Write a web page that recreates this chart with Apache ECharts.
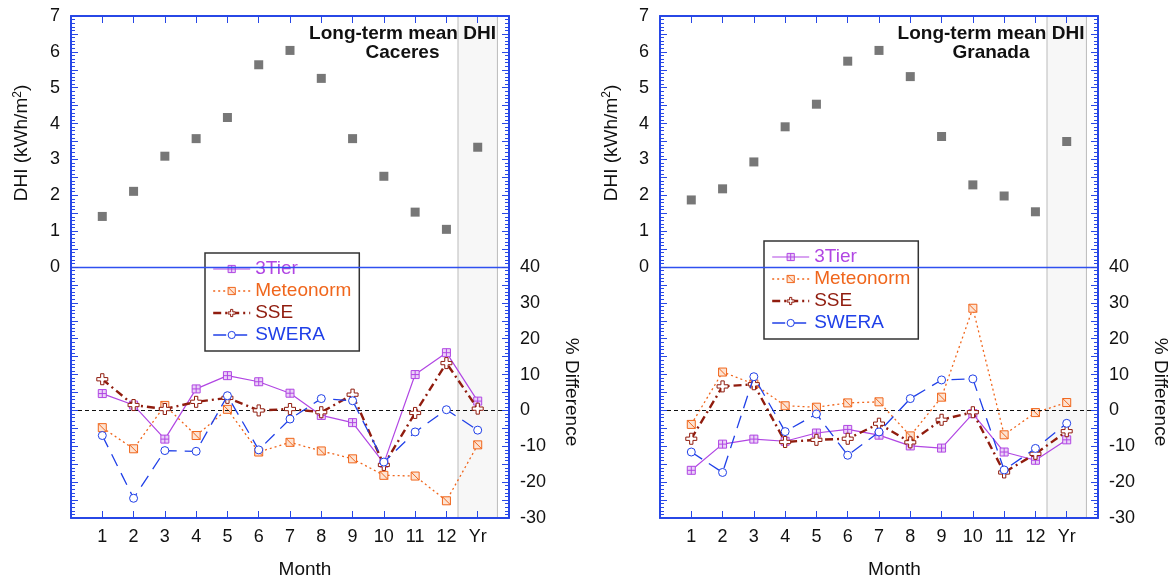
<!DOCTYPE html>
<html>
<head>
<meta charset="utf-8">
<script src="https://cdn.jsdelivr.net/npm/echarts@6/dist/echarts.min.js"></script>
<style>
  html, body { margin: 0; padding: 0; background: #fff; }
  #chart { width: 1171px; height: 581px; }
</style>
</head>
<body>
<div id="chart"></div>
<script>
// x positions 1..12 are months, 13 is the yearly value
var months = [1, 2, 3, 4, 5, 6, 7, 8, 9, 10, 11, 12, 13];
var monthLabels = ['1', '2', '3', '4', '5', '6', '7', '8', '9', '10', '11', '12', 'Yr'];
var siteNames = ['Caceres', 'Granada'];
var seriesNames = ['3Tier', 'Meteonorm', 'SSE', 'SWERA'];

// long-term mean DHI (kWh/m2)
var dhiCaceres = [1.41, 2.11, 3.09, 3.58, 4.17, 5.64, 6.04, 5.26, 3.58, 2.53, 1.53, 1.05, 3.34];
var dhiGranada = [1.87, 2.18, 2.93, 3.91, 4.54, 5.74, 6.04, 5.31, 3.64, 2.29, 1.98, 1.54, 3.50];

// % difference, Caceres
var tierCaceres = [4.7, 1.5, -8.0, 6.0, 9.7, 8.0, 4.8, -1.4, -3.4, -14.7, 10.0, 16.1, 2.6];
var meteoCaceres = [-4.8, -10.7, 1.4, -7.0, 0.3, -11.6, -8.9, -11.3, -13.5, -18.1, -18.3, -25.2, -9.6];
var sseCaceres = [8.7, 1.5, 0.4, 2.4, 3.5, 0.0, 0.4, -0.5, 4.4, -15.2, -0.7, 13.2, 0.5];
var sweraCaceres = [-7.0, -24.5, -11.2, -11.4, 4.1, -11.0, -2.4, 3.3, 2.7, -14.4, -6.0, 0.2, -5.5];

// % difference, Granada
var tierGranada = [-16.7, -9.4, -8.0, -8.6, -6.3, -5.3, -6.9, -9.9, -10.5, -0.9, -11.6, -13.9, -8.2];
var meteoGranada = [-3.9, 10.7, 7.4, 1.3, 0.9, 2.1, 2.4, -7.1, 3.7, 28.5, -6.8, -0.6, 2.2];
var sseGranada = [-7.9, 6.7, 7.3, -8.8, -8.2, -7.9, -3.7, -8.9, -2.6, -0.5, -17.3, -12.1, -5.8];
var sweraGranada = [-11.6, -17.3, 9.4, -5.9, -1.0, -12.5, -6.0, 3.3, 8.5, 8.8, -16.6, -10.6, -3.6];

var font = "'Liberation Sans', Arial, Helvetica, sans-serif";
var axisBlue = '#2747e6';
var colors = { '3Tier': '#b146e3', 'Meteonorm': '#f0661c', 'SSE': '#901c0e', 'SWERA': '#2040e8' };

function pairs(vals) {
  return months.map(function (m, i) { return [m, vals[i]]; });
}

var chart = echarts.init(document.getElementById('chart'));

var grids = [
  { left: 71, top: 16, width: 438, height: 502 },
  { left: 660, top: 16, width: 438, height: 502 }
];

var xAxes = [], yAxes = [], series = [], legends = [], graphics = [];

function xAxisFor(g, pos) {
  return {
    type: 'value', gridIndex: g, position: pos, min: 0, max: 14, interval: 1, z: 5,
    axisLine: { show: true, onZero: false, lineStyle: { color: axisBlue, width: 2 } },
    axisTick: { show: true, inside: true, length: 7, lineStyle: { color: axisBlue, width: 1 } },
    splitLine: { show: false },
    axisLabel: {
      show: pos === 'bottom', margin: 10, color: '#111', fontFamily: font, fontSize: 18,
      formatter: function (v) { return (v >= 1 && v <= 13) ? monthLabels[v - 1] : ''; }
    }
  };
}

[0, 1].forEach(function (g) {
  xAxes.push(xAxisFor(g, 'bottom'));
  xAxes.push(xAxisFor(g, 'top'));
  yAxes.push({
    type: 'value', gridIndex: g, position: 'left', min: -7, max: 7, interval: 0.5, z: 5,
    axisLine: { show: true, onZero: false, lineStyle: { color: axisBlue, width: 2 } },
    axisTick: { show: true, inside: true, length: 7, lineStyle: { color: axisBlue, width: 1 } },
    minorTick: { show: true, splitNumber: 5, length: 4, lineStyle: { color: axisBlue, width: 1 } },
    splitLine: { show: false },
    axisLabel: {
      margin: 11, color: '#111', fontFamily: font, fontSize: 18,
      formatter: function (v) { return (v >= 0 && Math.abs(v - Math.round(v)) < 1e-6) ? String(Math.round(v)) : ''; }
    }
  });
  yAxes.push({
    type: 'value', gridIndex: g, position: 'right', min: -30, max: 110, interval: 5, z: 5,
    axisLine: { show: true, onZero: false, lineStyle: { color: axisBlue, width: 2 } },
    axisTick: { show: true, inside: true, length: 7, lineStyle: { color: axisBlue, width: 1 } },
    minorTick: { show: true, splitNumber: 5, length: 4, lineStyle: { color: axisBlue, width: 1 } },
    splitLine: { show: false },
    axisLabel: {
      margin: 11, color: '#111', fontFamily: font, fontSize: 18,
      formatter: function (v) { return (v <= 40 && Math.round(v) % 10 === 0) ? String(Math.round(v)) : ''; }
    }
  });
});

var symbols = {
  '3Tier': 'path://M0,0L10,0L10,10L0,10Z M5,0L5,10 M0,5L10,5',
  'Meteonorm': 'path://M0,0L10,0L10,10L0,10Z M0,0L10,10',
  'SSE': 'path://M3.5,0L6.5,0L6.5,3.5L10,3.5L10,6.5L6.5,6.5L6.5,10L3.5,10L3.5,6.5L0,6.5L0,3.5L3.5,3.5Z',
  'SWERA': 'circle'
};
var fills = { '3Tier': '#ead2f7', 'Meteonorm': '#fde3d2', 'SSE': '#ffffff', 'SWERA': '#ffffff' };
var sizes = { '3Tier': 8, 'Meteonorm': 8, 'SSE': 11, 'SWERA': 8 };
var lineStyles = {
  '3Tier': { width: 1.2, type: 'solid' },
  'Meteonorm': { width: 1.3, type: [2, 3] },
  'SSE': { width: 2.4, type: [8, 4, 2, 4] },
  'SWERA': { width: 1.3, type: [13, 8] }
};

var sets = [
  { dhi: dhiCaceres, pct: [tierCaceres, meteoCaceres, sseCaceres, sweraCaceres] },
  { dhi: dhiGranada, pct: [tierGranada, meteoGranada, sseGranada, sweraGranada] }
];

sets.forEach(function (s, g) {
  series.push({
    type: 'scatter', name: 'DHI', xAxisIndex: 2 * g, yAxisIndex: 2 * g, z: 1,
    symbol: 'rect', symbolSize: 9, itemStyle: { color: '#555555' },
    data: pairs(s.dhi), silent: true,
    markArea: {
      silent: true,
      itemStyle: { color: '#f7f7f7', borderColor: '#bbbbbb', borderWidth: 1 },
      data: [[{ xAxis: 12.37 }, { xAxis: 13.63 }]]
    }
  });
  seriesNames.forEach(function (name, k) {
    var ser = {
      type: 'line', name: name, xAxisIndex: 2 * g, yAxisIndex: 2 * g + 1, z: 3 + k,
      data: pairs(s.pct[k]),
      symbol: symbols[name], symbolSize: sizes[name], showAllSymbol: true,
      lineStyle: { color: colors[name], width: lineStyles[name].width, type: lineStyles[name].type },
      itemStyle: { color: fills[name], borderColor: colors[name], borderWidth: 1 },
      animation: false
    };
    if (k === 0) {
      ser.markLine = {
        silent: true, symbol: 'none', label: { show: false },
        lineStyle: { color: '#111111', type: [4, 3], width: 1 },
        data: [{ yAxis: 0 }]
      };
    }
    if (k === 1) {
      // DHI zero line (left axis 0 sits at right axis 40)
      ser.markLine = {
        silent: true, symbol: 'none', label: { show: false },
        lineStyle: { color: '#2f50f0', type: 'solid', width: 1.3, opacity: 1 },
        emphasis: { disabled: true },
        data: [{ yAxis: 40 }]
      };
    }
    series.push(ser);
  });
});

[{ left: 205, top: 253 }, { left: 764, top: 241 }].forEach(function (p) {
  legends.push({
    orient: 'vertical', left: p.left, top: p.top,
    backgroundColor: '#ffffff', borderColor: '#333333', borderWidth: 1.5, borderRadius: 0,
    padding: [5, 8, 5, 7], itemGap: 0, itemWidth: 37, itemHeight: 9,
    selectedMode: false,
    textStyle: { fontFamily: font, fontSize: 19, lineHeight: 22 },
    data: seriesNames.map(function (n) {
      return {
        name: n,
        textStyle: { color: colors[n] },
        itemStyle: { color: fills[n], borderColor: colors[n], borderWidth: 1 },
        lineStyle: { color: colors[n], width: lineStyles[n].width, type: lineStyles[n].type }
      };
    })
  });
});

// titles and axis names
[{ cx: 402.5, dx: 0 }, { cx: 991, dx: 589.5 }].forEach(function (t, g) {
  graphics.push({
    type: 'text', x: t.cx, y: 43, z: 20,
    style: {
      text: 'Long-term mean DHI\n' + siteNames[g], fill: '#111', font: 'bold 19px ' + font,
      textAlign: 'center', textVerticalAlign: 'middle', lineHeight: 19
    }
  });
  graphics.push({
    type: 'text', x: 305 + t.dx, y: 570, z: 20,
    style: { text: 'Month', fill: '#111', font: '19px ' + font, textAlign: 'center', textVerticalAlign: 'middle' }
  });
  graphics.push({
    type: 'text', x: 22 + t.dx, y: 143, rotation: Math.PI / 2, z: 20,
    style: {
      text: 'DHI (kWh/m{sup|2})', fill: '#111', font: '19px ' + font,
      textAlign: 'center', textVerticalAlign: 'middle',
      rich: { sup: { fontSize: 12, fontFamily: font, verticalAlign: 'top', padding: [0, 0, 9, 0], fill: '#111' } }
    }
  });
  graphics.push({
    type: 'text', x: 571 + t.dx, y: 392, rotation: -Math.PI / 2, z: 20,
    style: { text: '% Difference', fill: '#111', font: '19px ' + font, textAlign: 'center', textVerticalAlign: 'middle' }
  });
});

chart.setOption({
  animation: false,
  backgroundColor: '#ffffff',
  grid: grids,
  xAxis: xAxes,
  yAxis: yAxes,
  legend: legends,
  series: series,
  graphic: graphics
});
</script>
</body>
</html>
